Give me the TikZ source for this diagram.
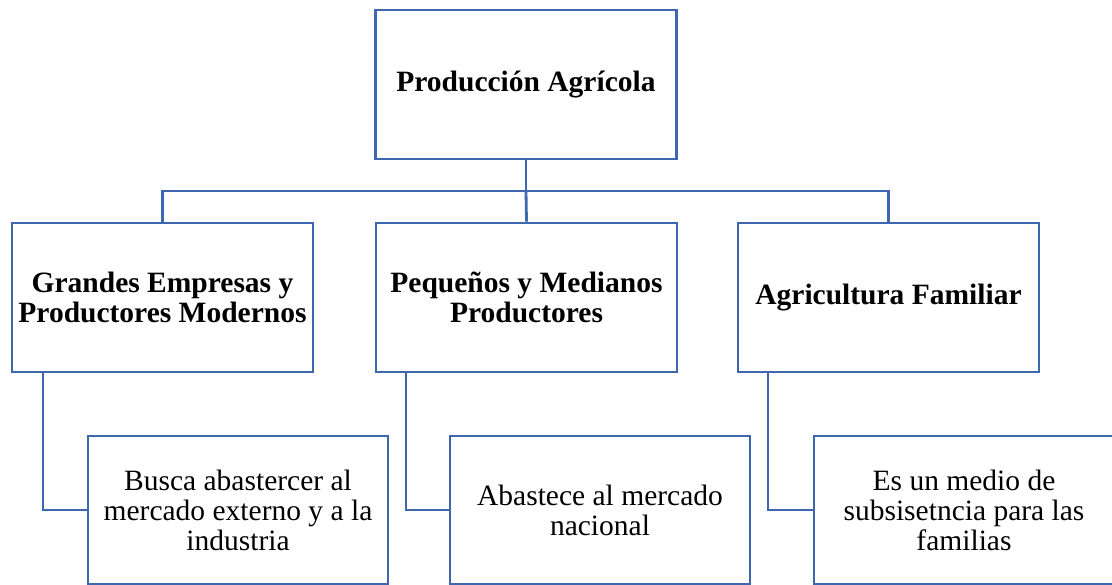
\documentclass[tikz,border=0pt]{standalone}
\usepackage{fontspec}
\setmainfont{Liberation Serif}
\definecolor{boxblue}{RGB}{63,103,176}
\begin{document}
\begin{tikzpicture}[x=1pt,y=-1pt,
  box/.style={draw=boxblue, line width=2.8pt, rectangle, align=center, inner sep=0pt, font=\fontsize{29.5}{30}\selectfont},
  hbox/.style={box, font=\fontsize{29.5}{30}\selectfont\bfseries},
  conn/.style={draw=boxblue, line width=2.8pt}]
\useasboundingbox (0,0) rectangle (1112,585);
\clip (0,0) rectangle (1112,585);
\node[hbox, minimum width=301pt, minimum height=149pt] (top) at (526,84.5) {Producción Agrícola};
\node[hbox, minimum width=301pt, minimum height=149pt] (m1) at (162.5,297.5) {Grandes Empresas y\\Productores Modernos};
\node[hbox, minimum width=301pt, minimum height=149pt] (m2) at (526.5,297.5) {Pequeños y Medianos\\Productores};
\node[hbox, minimum width=301pt, minimum height=149pt] (m3) at (888.5,297.5) {Agricultura Familiar};
\node[box, minimum width=300pt, minimum height=148pt] (b1) at (238,510) {Busca abastercer al\\mercado externo y a la\\industria};
\node[box, minimum width=300pt, minimum height=148pt] (b2) at (600,510) {Abastece al mercado\\nacional};
\node[box, minimum width=300pt, minimum height=148pt] (b3) at (964,510) {Es un medio de\\subsisetncia para las\\familias};
\coordinate (bus) at (526,191);
\draw[conn] (top.south) -- (bus);
\draw[conn] (m1.north) |- (bus) -| (m3.north);
\draw[conn] (bus) -- (m2.north);
\draw[conn] ([xshift=-119.5pt]m1.south) |- (b1.west);
\draw[conn] ([xshift=-120.5pt]m2.south) |- (b2.west);
\draw[conn] ([xshift=-120.5pt]m3.south) |- (b3.west);
\end{tikzpicture}
\end{document}
